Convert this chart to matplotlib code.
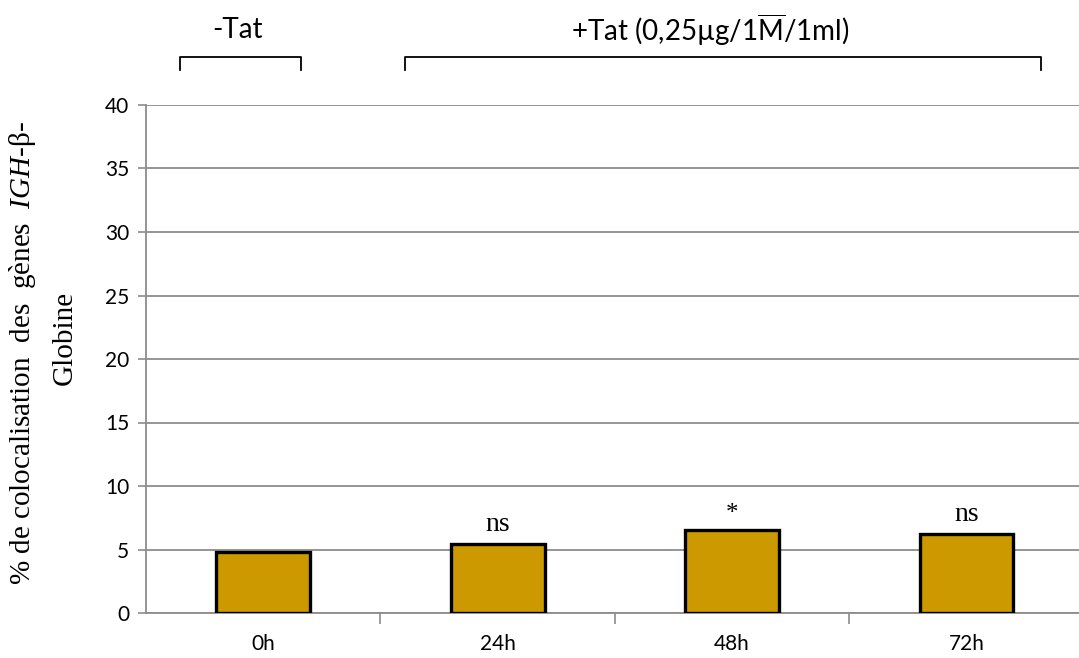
import matplotlib
matplotlib.use("Agg")
import matplotlib.pyplot as plt
import matplotlib.transforms as mtransforms

categories = ["0h", "24h", "48h", "72h"]
values = [4.8, 5.4, 6.5, 6.2]
signif = ["", "ns", "*", "ns"]
yticks = [0, 5, 10, 15, 20, 25, 30, 35, 40]

plt.rcParams['mathtext.fontset'] = 'custom'
plt.rcParams['mathtext.rm'] = 'Lato'
plt.rcParams['mathtext.it'] = 'Liberation Serif:italic'

fig = plt.figure(figsize=(10.79, 6.58), dpi=100)
ax = fig.add_axes([146/1079, 1 - 613/658, (1079 - 146)/1079, (613 - 105)/658])

x = list(range(len(categories)))
bars = ax.bar(x, values, width=0.4, color="#CC9900", edgecolor="black", linewidth=2.4, zorder=3)

ax.set_xlim(-0.5, 3.48)
ax.set_ylim(0, 40)
ax.set_yticks(yticks)
ax.set_yticklabels([str(v) for v in yticks], fontfamily="Lato", fontsize=15)
ax.yaxis.grid(True, color="#8c8c8c", linewidth=1.3, zorder=0)
ax.set_axisbelow(True)

ax.set_xticks(x)
ax.set_xticklabels(categories, fontfamily="Lato", fontsize=15)
ax.tick_params(axis='x', which='major', length=0, pad=15)
ax.set_xticks([0.5, 1.5, 2.5], minor=True)
ax.tick_params(axis='x', which='minor', length=8, color="#8c8c8c", width=1.2)
ax.tick_params(axis='y', length=6, color="#8c8c8c", width=1.2, pad=6)

for s in ["top", "right"]:
    ax.spines[s].set_visible(False)
for s in ["left", "bottom"]:
    ax.spines[s].set_color("#8c8c8c")
    ax.spines[s].set_linewidth(1.3)

for xi, v, s in zip(x, values, signif):
    if s:
        ax.annotate(s, (xi, v), xytext=(0, 5 if s == "ns" else 4), textcoords="offset points",
                    ha="center", va="bottom", fontfamily="Liberation Serif",
                    fontsize=20 if s == "ns" else 18)

# y label (two lines, serif, IGH italic)
fig.text(23/1079, 1 - 353/658,
         "% de colocalisation  des  gènes  $\\mathit{IGH}$-β-",
         rotation=90, ha="center", va="center", fontfamily="Liberation Serif", fontsize=21)
fig.text(65/1079, 1 - 338/658, "Globine",
         rotation=90, ha="center", va="center", fontfamily="Liberation Serif", fontsize=21)

# group brackets
trans = mtransforms.blended_transform_factory(ax.transData, ax.transAxes)
groups = [("-Tat", -0.355, 0.161, -0.108),
          ("+Tat (0,25µg/1$\\overline{\\mathrm{M}}$/1ml)", 0.604, 3.32, 1.905)]
for label, x0, x1, xt in groups:
    ax.plot([x0, x0, x1, x1], [1.068, 1.094, 1.094, 1.068], color="black",
            linewidth=1.3, transform=trans, clip_on=False)
    ax.text(xt, 1.148, label, transform=trans, ha="center", va="center",
            fontfamily="Lato", fontsize=20)

fig.savefig("out.png", dpi=100)
